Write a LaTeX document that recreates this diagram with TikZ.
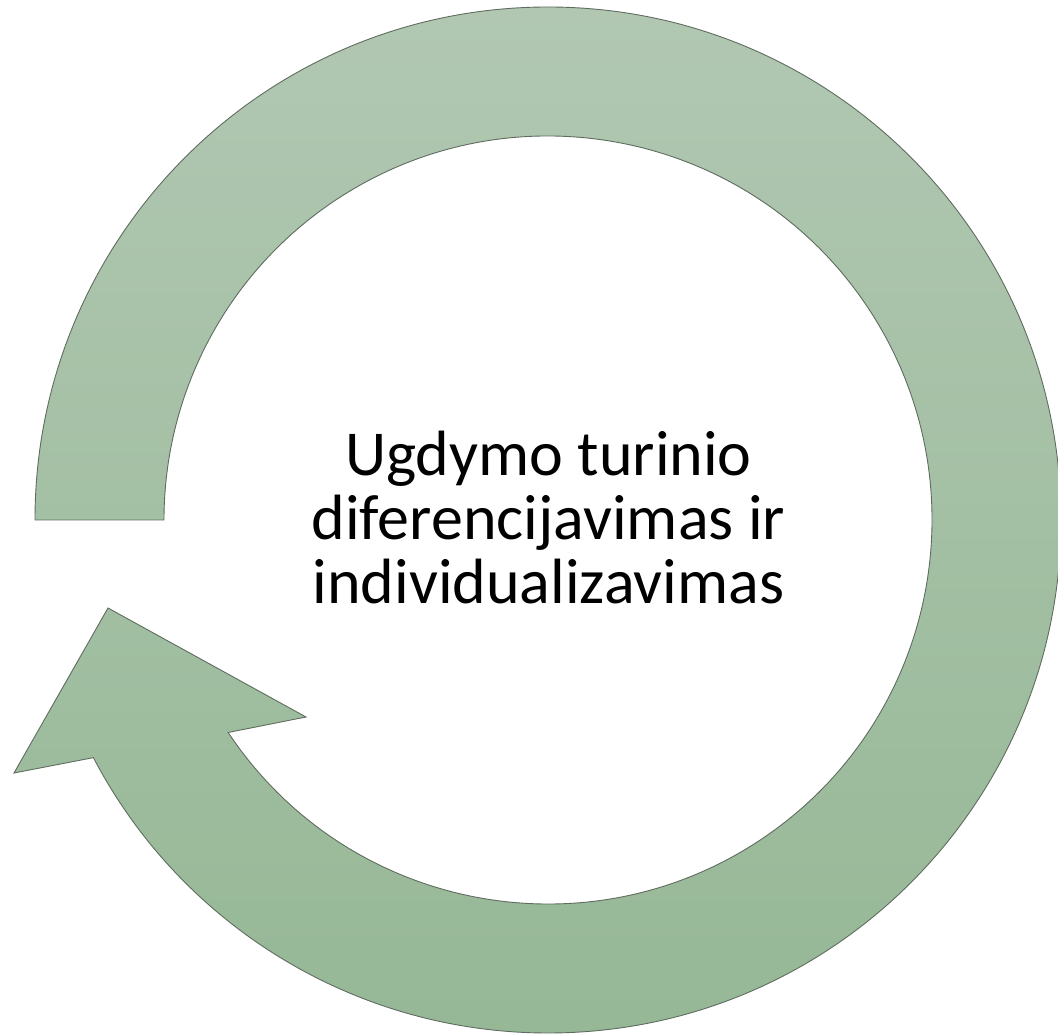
\documentclass[tikz,border=0pt]{standalone}
\usepackage{fontspec}
\setmainfont{Carlito}
\usetikzlibrary{calc}
\definecolor{arrowtop}{RGB}{177,199,178}
\definecolor{arrowbot}{RGB}{150,184,150}
\definecolor{arrowedge}{RGB}{95,108,95}
\tikzset{
  cyclearrow/.style={top color=arrowtop, bottom color=arrowbot, draw=arrowedge, line width=0.9pt, line join=miter},
  centertext/.style={align=center, font=\fontsize{64}{64}\selectfont, text=black, inner sep=0pt}
}
\begin{document}
\begin{tikzpicture}[x=1pt,y=1pt]
\useasboundingbox (0,0) rectangle (1058,1034);
\coordinate (C) at (548,514);
\path[cyclearrow]
  ($(C)+(180:513pt)$) arc[start angle=180, end angle=-152.4, radius=513pt]
  -- (14,261) -- (108,426) -- (306,317)
  -- ($(C)+(-146.4:384pt)$) arc[start angle=-146.4, end angle=180, radius=384pt]
  -- cycle;
\node[centertext] (label) at (548.5,516) {Ugdymo turinio\\diferencijavimas ir\\individualizavimas};
\end{tikzpicture}
\end{document}
